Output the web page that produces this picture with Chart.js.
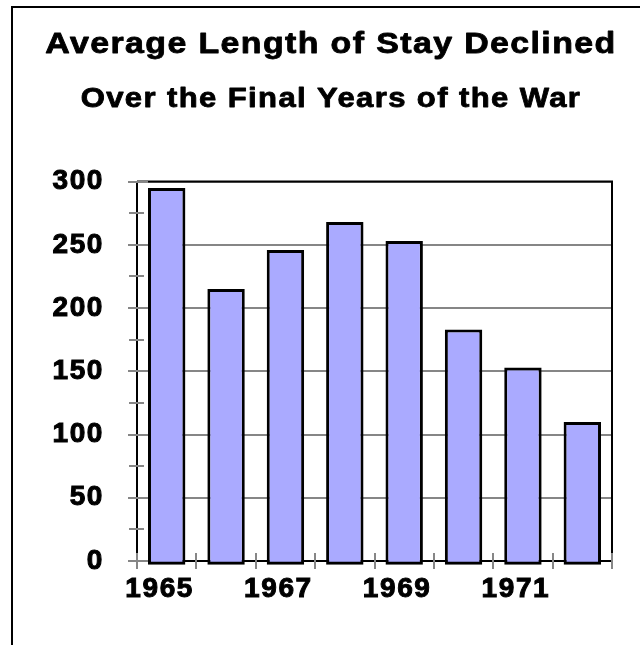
<!DOCTYPE html>
<html>
<head>
<meta charset="utf-8">
<script src="https://cdn.jsdelivr.net/npm/chart.js@4/dist/chart.umd.min.js"></script>
<style>
  html, body { margin: 0; padding: 0; background: #fff; }
</style>
</head>
<body>
<canvas id="myChart" width="640" height="645"></canvas>
<script>
// data
const years = ['1965', '1966', '1967', '1968', '1969', '1970', '1971', '1972'];
const stayDays = [295, 215, 246, 268, 253, 183, 153, 110];
const labeledYears = ['1965', '1967', '1969', '1971'];
const yLabels = [0, 50, 100, 150, 200, 250, 300];

const FONT = "'Liberation Sans', Arial, sans-serif";
const GRID = '#868686';
const TITLE_X = 331;

// the old spreadsheet text is wide and heavy: spacing, a bit of stretch, a thin stroke
const textLook = {
  id: 'textLook',
  beforeDraw(chart) {
    chart.boxes.forEach(box => {
      if (box._looked) return;
      box._looked = true;
      if (box.axis) {
        const orig = box.drawLabels;
        box.drawLabels = function (area) {
          this.ctx.letterSpacing = '1.6px';
          orig.call(this, area);
          this.ctx.letterSpacing = '0px';
        };
      } else if (box.options && box.options.text !== undefined) {
        const orig = box.draw;
        box.draw = function (area) {
          const ctx = this.ctx;
          const cx = (this.left + this.right) / 2;
          ctx.save();
          ctx.letterSpacing = '1.2px';
          ctx.translate(TITLE_X, 0);
          ctx.scale(1.15, 1);
          ctx.translate(-cx, 0);
          const fill = ctx.fillText;
          ctx.fillText = function (...args) {
            this.lineWidth = 0.8;
            this.lineJoin = 'round';
            this.strokeStyle = this.fillStyle;
            this.strokeText(...args);
            return fill.apply(this, args);
          };
          orig.call(this, area);
          delete ctx.fillText;
          ctx.restore();
        };
      }
    });
    // outer frame
    const ctx = chart.ctx;
    ctx.save();
    ctx.fillStyle = '#000';
    ctx.fillRect(11, 6, 629, 2);
    ctx.fillRect(11, 6, 2, 639);
    ctx.restore();
  },
  afterDraw(chart) {
    const {ctx, chartArea: a} = chart;
    const xs = chart.scales.x, ys = chart.scales.y;
    ctx.save();
    ctx.strokeStyle = '#000';
    ctx.lineWidth = 2;
    ctx.beginPath();
    ctx.moveTo(a.left, a.top);
    ctx.lineTo(a.right, a.top);
    ctx.lineTo(a.right, a.bottom);
    ctx.stroke();
    // tick marks cross the axis lines
    ctx.strokeStyle = GRID;
    ctx.beginPath();
    ys.ticks.forEach(t => {
      const y = Math.round(ys.getPixelForValue(t.value));
      const major = yLabels.includes(t.value);
      ctx.moveTo(a.left - (major ? 9 : 6), y);
      ctx.lineTo(a.left + (major ? 11 : 7), y);
    });
    for (let i = 0; i <= years.length; i++) {
      const x = Math.round(xs.getPixelForValue(i - 0.5));
      ctx.moveTo(x, a.bottom - 8);
      ctx.lineTo(x, a.bottom + 8);
    }
    ctx.stroke();
    ctx.restore();
  }
};

const data = {
  labels: years,
  datasets: [{
    label: 'Average length of stay',
    data: stayDays,
    base: -3,
    clip: false,
    backgroundColor: '#aaaaff',
    borderColor: '#000',
    borderWidth: 3,
    borderSkipped: false,
    barPercentage: 0.63,
    categoryPercentage: 1
  }]
};

const config = {
  type: 'bar',
  data: data,
  options: {
    responsive: false,
    animation: false,
    layout: {padding: {top: 0, left: 10, right: 28, bottom: 34}},
    plugins: {
      legend: {display: false},
      tooltip: {enabled: false},
      title: {
        display: true,
        text: 'Average Length of Stay Declined',
        color: '#000',
        font: {family: FONT, size: 29.5, weight: 'bold'},
        padding: {top: 26.8, bottom: 10}
      },
      subtitle: {
        display: true,
        text: 'Over the Final Years of the War',
        color: '#000',
        font: {family: FONT, size: 27, weight: 'bold'},
        padding: {top: 11.4, bottom: 65.6}
      }
    },
    scales: {
      x: {
        offset: true,
        afterFit: s => { s.height = 50; },
        grid: {
          offset: true,
          drawOnChartArea: false,
          tickColor: GRID,
          tickLength: 8,
          lineWidth: 2
        },
        border: {color: '#000', width: 2},
        ticks: {
          autoSkip: false,
          maxRotation: 0,
          padding: 3,
          labelOffset: -7,
          color: '#000',
          textStrokeColor: '#000',
          textStrokeWidth: 1,
          font: {family: FONT, size: 28, weight: 'bold'},
          callback: function (v) {
            const y = this.getLabelForValue(v);
            return labeledYears.includes(y) ? y : '';
          }
        }
      },
      y: {
        min: 0,
        max: 300,
        afterFit: s => { s.width = 127; },
        grid: {
          color: c => (c.tick && yLabels.includes(c.tick.value)) ? GRID : 'rgba(0,0,0,0)',
          tickColor: GRID,
          tickLength: 8,
          lineWidth: 2
        },
        border: {color: '#000', width: 2},
        ticks: {
          stepSize: 25,
          autoSkip: false,
          padding: 25,
          color: '#000',
          textStrokeColor: '#000',
          textStrokeWidth: 1,
          font: {family: FONT, size: 28, weight: 'bold'},
          callback: v => yLabels.includes(v) ? String(v) : ''
        }
      }
    }
  },
  plugins: [textLook]
};

const myChart = new Chart(document.getElementById('myChart'), config);
</script>
</body>
</html>
